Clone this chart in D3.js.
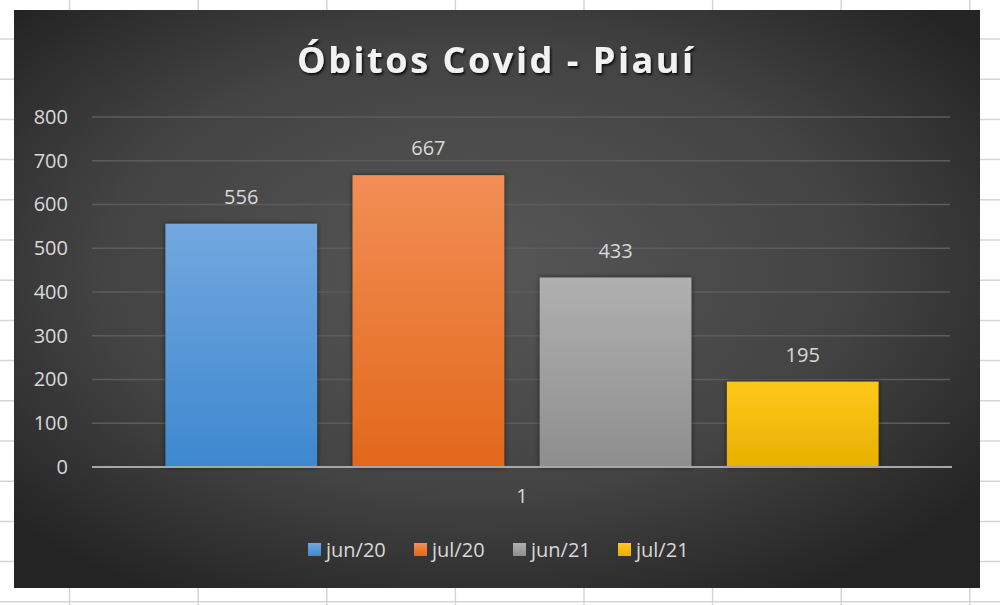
<!DOCTYPE html>
<html lang="pt">
<head>
<meta charset="utf-8">
<title>Óbitos Covid - Piauí</title>
<script src="https://cdn.jsdelivr.net/npm/d3@7"></script>
<style>
  body { margin: 0; background: #fff; }
  svg { display: block; font-family: "Open Sans", "Noto Sans", sans-serif; }
</style>
</head>
<body>
<script>
// dados
var categories = ["1"];
var series = ["jun/20", "jul/20", "jun/21", "jul/21"];
var values = [556, 667, 433, 195];
var yTicks = [0, 100, 200, 300, 400, 500, 600, 700, 800];
var title = "Óbitos Covid - Piauí";

var w = 1000, h = 605;
var colors = {
  "jun/20": ["#72a8df", "#3d88cf"],
  "jul/20": ["#f28e55", "#e2681b"],
  "jun/21": ["#b0b0b0", "#8e8e8e"],
  "jul/21": ["#ffc81a", "#e8b000"]
};

var svg = d3.select("body").append("svg")
  .attr("width", w)
  .attr("height", h);

var defs = svg.append("defs");

var bg = defs.append("radialGradient").attr("id", "bg")
  .attr("cx", "48%").attr("cy", "45%").attr("r", "65%");
bg.append("stop").attr("offset", "0%").attr("stop-color", "#575757");
bg.append("stop").attr("offset", "60%").attr("stop-color", "#434343");
bg.append("stop").attr("offset", "100%").attr("stop-color", "#242424");

series.forEach(function(s, i) {
  var g = defs.append("linearGradient").attr("id", "g" + i)
    .attr("x1", 0).attr("y1", 0).attr("x2", 0).attr("y2", 1);
  g.append("stop").attr("offset", "0%").attr("stop-color", colors[s][0]);
  g.append("stop").attr("offset", "100%").attr("stop-color", colors[s][1]);
});

var shadow = defs.append("filter").attr("id", "shadow")
  .attr("x", "-10%").attr("y", "-10%").attr("width", "120%").attr("height", "120%");
shadow.append("feDropShadow").attr("dx", 0).attr("dy", 0)
  .attr("stdDeviation", 2.5).attr("flood-color", "#000").attr("flood-opacity", 0.6);

var tshadow = defs.append("filter").attr("id", "tshadow");
tshadow.append("feDropShadow").attr("dx", 1.5).attr("dy", 2)
  .attr("stdDeviation", 1.2).attr("flood-color", "#000").attr("flood-opacity", 0.8);

// grade da planilha ao fundo
var cols = d3.range(-59, w, 128.6);
var rows = d3.range(-1.2, h, 40.2);
svg.selectAll("line.col").data(cols).enter().append("line")
  .attr("class", "col")
  .attr("x1", function(d) { return d; }).attr("x2", function(d) { return d; })
  .attr("y1", 0).attr("y2", h)
  .attr("stroke", "#d6d6d6").attr("stroke-width", 1.5);
svg.selectAll("line.row").data(rows).enter().append("line")
  .attr("class", "row")
  .attr("y1", function(d) { return d; }).attr("y2", function(d) { return d; })
  .attr("x1", 0).attr("x2", w)
  .attr("stroke", "#d6d6d6").attr("stroke-width", 1.5);

// área do gráfico
svg.append("rect")
  .attr("x", 14).attr("y", 10)
  .attr("width", 966).attr("height", 578)
  .attr("fill", "url(#bg)");

var y = d3.scaleLinear().domain([0, 800]).range([467, 117]);

var x0 = d3.scaleBand().domain(categories)
  .range([92, 952]).paddingOuter(0.103);
var x1 = d3.scaleBand().domain(series)
  .range([0, x0.bandwidth()]).paddingInner(0.19).paddingOuter(0);

// linhas de grade
svg.append("g").selectAll("line").data(yTicks.filter(function(d) { return d > 0; }))
  .enter().append("line")
  .attr("x1", 92).attr("x2", 950)
  .attr("y1", function(d) { return y(d); })
  .attr("y2", function(d) { return y(d); })
  .attr("stroke", "#5c5c5c").attr("stroke-width", 1.5);

// eixo y
var yAxis = svg.append("g")
  .attr("transform", "translate(68,0)")
  .call(d3.axisLeft(y).tickValues(yTicks).tickSize(0).tickPadding(0));
yAxis.select(".domain").remove();
yAxis.selectAll("text")
  .attr("fill", "#d9d9d9")
  .attr("font-size", "20px")
  .attr("font-family", "Open Sans, sans-serif");

// barras
var data = series.map(function(s, i) { return { s: s, v: values[i], i: i }; });

var grp = svg.append("g").attr("transform", "translate(" + x0(categories[0]) + ",0)");

grp.selectAll("rect").data(data).enter().append("rect")
  .attr("x", function(d) { return x1(d.s); })
  .attr("y", function(d) { return y(d.v); })
  .attr("width", x1.bandwidth())
  .attr("height", function(d) { return y(0) - y(d.v); })
  .attr("fill", function(d) { return "url(#g" + d.i + ")"; })
  .attr("filter", "url(#shadow)");

grp.selectAll("text").data(data).enter().append("text")
  .text(function(d) { return d.v; })
  .attr("x", function(d) { return x1(d.s) + x1.bandwidth() / 2; })
  .attr("y", function(d) { return y(d.v) - 20; })
  .attr("text-anchor", "middle")
  .attr("font-size", "20px")
  .attr("fill", "#d9d9d9");

// eixo x
svg.append("line")
  .attr("x1", 92).attr("x2", 952)
  .attr("y1", y(0)).attr("y2", y(0))
  .attr("stroke", "#a6a6a6").attr("stroke-width", 2);

var xAxis = svg.append("g")
  .attr("transform", "translate(0," + y(0) + ")")
  .call(d3.axisBottom(x0).tickSize(0).tickPadding(22));
xAxis.select(".domain").remove();
xAxis.selectAll("text")
  .attr("fill", "#d9d9d9")
  .attr("font-size", "20px")
  .attr("font-family", "Open Sans, sans-serif");

// título
svg.append("text")
  .text(title)
  .attr("x", 297).attr("y", 73)
  .attr("textLength", 396)
  .attr("lengthAdjust", "spacing")
  .attr("font-size", "36px")
  .attr("font-weight", "bold")
  .attr("fill", "#f2f2f2")
  .attr("filter", "url(#tshadow)");

// legenda
var legX = [308, 414, 513, 618];
var leg = svg.append("g").selectAll("g").data(series).enter().append("g")
  .attr("transform", function(d, i) { return "translate(" + legX[i] + ",543)"; });
leg.append("rect")
  .attr("width", 13).attr("height", 13)
  .attr("fill", function(d, i) { return "url(#g" + i + ")"; });
leg.append("text")
  .text(function(d) { return d; })
  .attr("x", 18).attr("y", 14)
  .attr("font-size", "20px")
  .attr("fill", "#d9d9d9");
</script>
</body>
</html>
